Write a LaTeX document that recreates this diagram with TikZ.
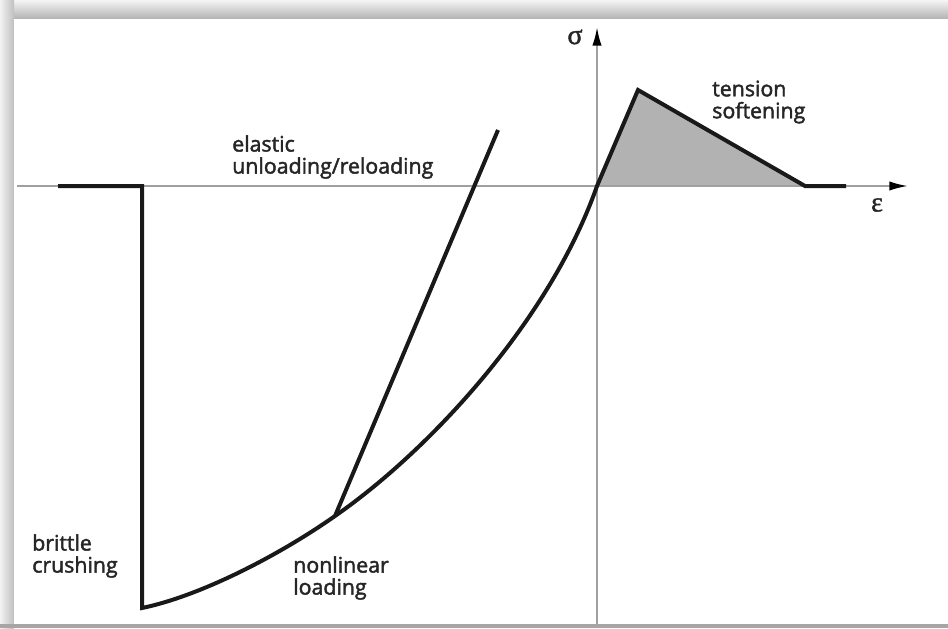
\documentclass[tikz,border=0pt]{standalone}
\usepackage{fontspec}
\newfontfamily\lblfont[FakeBold=2]{Open Sans}
\newfontfamily\grkfont[FakeBold=1.5]{Liberation Serif}
\usetikzlibrary{arrows.meta}
\definecolor{axisgray}{RGB}{160,160,160}
\definecolor{fillgray}{RGB}{178,178,178}
\definecolor{curveblack}{RGB}{25,25,25}
\begin{document}
\begin{tikzpicture}[x=0.75pt,y=-0.75pt,
  axisline/.style={draw=axisgray,line width=1.5pt,-{Latex[length=14pt,width=7pt,fill=black,color=black]}},
  curveline/.style={draw=curveblack,line width=3pt,line join=miter},
  lbl/.style={font=\lblfont\fontsize{16}{16.5}\selectfont,align=left,anchor=west,inner sep=0pt,text=black!85},
  greek/.style={font=\grkfont\fontsize{21}{22}\selectfont,inner sep=0pt,text=black!85}]
\useasboundingbox (0,0) rectangle (948,628);
% frame
\fill[white] (0,0) rectangle (948,628);
\shade[top color=black!4,bottom color=black!30] (0,0) rectangle (948,19);
\shade[left color=black!5,right color=black!25] (0,0) rectangle (14,628);
\fill[black!35] (0,624) rectangle (948,628);
\fill[white] (14,19) rectangle (948,624);
% coordinates
\coordinate (O) at (597,186);
\coordinate (peak) at (638,90);
\coordinate (soft) at (805,186);
\coordinate (tailR) at (846,186);
\coordinate (tailL) at (58,186);
\coordinate (crushtop) at (142,186);
\coordinate (crushbot) at (142,608);
\coordinate (unl) at (335,516);
\coordinate (elTop) at (498,130);
\coordinate (xstart) at (17,186);
\coordinate (xend) at (908,186);
\coordinate (ystart) at (597,624);
\coordinate (yend) at (597,27);
% tension fill
\fill[fillgray] (O) -- (peak) -- (soft) -- cycle;
% axes
\draw[axisline] (xstart) -- (xend);
\draw[axisline] (ystart) -- (yend);
% main curve
\draw[curveline] (tailL) -- (crushtop) -- (crushbot)
  .. controls (200,596) and (278,556) .. (unl)
  .. controls (430,450) and (550,320) .. (O)
  -- (peak) -- (soft) -- (tailR);
% elastic line
\draw[curveline] (unl) -- (elTop);
% labels
\node[greek] (sig) at (575,37) {σ};
\node[greek] (eps) at (877,205) {ε};
\node[lbl] (ten) at (712,102) {tension\\softening};
\node[lbl] (ela) at (232,157) {elastic\\unloading/reloading};
\node[lbl] (bri) at (32,556) {brittle\\crushing};
\node[lbl] (non) at (293,578) {nonlinear\\loading};
\end{tikzpicture}
\end{document}
